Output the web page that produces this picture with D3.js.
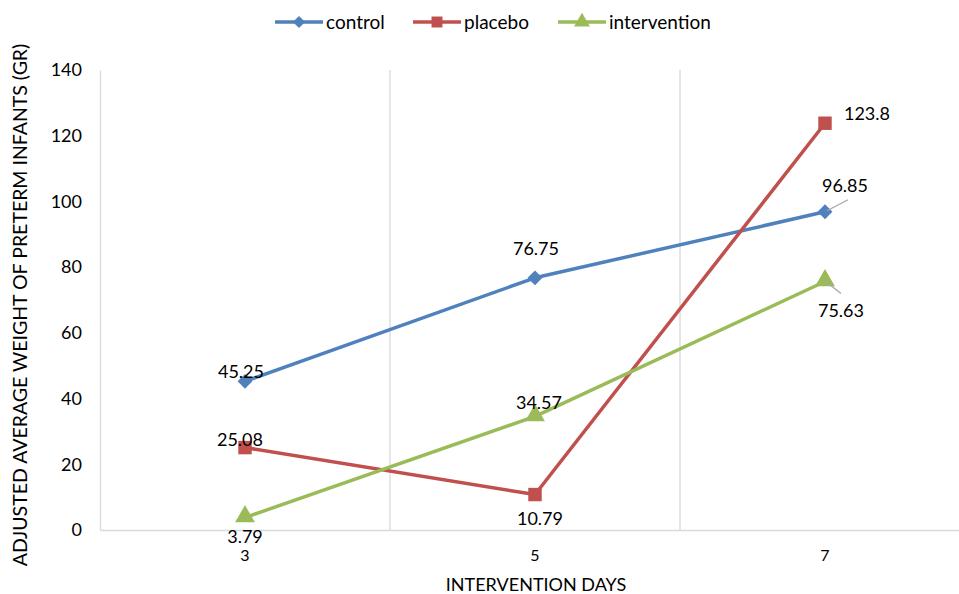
<!DOCTYPE html>
<html><head><meta charset="utf-8">
<script src="https://cdn.jsdelivr.net/npm/d3@7/dist/d3.min.js"></script>
<style>body{margin:0;background:#fff}svg{display:block;font-family:Lato,"Open Sans",sans-serif}</style>
</head><body><svg id="c" width="959" height="594"></svg>
<script>
const categories = ["3","5","7"];
const controlValues = [45.25, 76.75, 96.85];
const placeboValues = [25.08, 10.79, 123.8];
const interventionValues = [3.79, 34.57, 75.63];
const yTicks = [0,20,40,60,80,100,120,140];
const seriesNames = ["control","placebo","intervention"];
const seriesColors = ["#4F81BD","#C0504D","#9BBB59"];
// label placement: [dx, dy] offsets relative to point, per series/point
const labelPos = [
  [[-4,-10],[1,-29],[20,-26]],
  [[-5,-8],[5,24],[42,-10]],
  [[0,19],[4,-14],[16,29]]
];
const leaders = [[null,null,[2,-1,23,-12]],[null,null,null],[null,null,[2,1,16,12]]];

const svg = d3.select("#c");
const x = d3.scaleBand().domain(categories).range([100,970]).paddingInner(0).paddingOuter(0);
const y = d3.scaleLinear().domain([0,140]).range([530,70]);
const cx = c => x(c) + x.bandwidth()/2;

// gridlines (category boundaries)
svg.append("g").selectAll("line").data(categories.slice(1)).join("line")
  .attr("x1", d=>x(d)).attr("x2", d=>x(d)).attr("y1", y(140)).attr("y2", y(0))
  .attr("stroke","#d9d9d9").attr("stroke-width",1.3);

// y axis
const ya = svg.append("g").attr("transform","translate(100,0)")
  .call(d3.axisLeft(y).tickValues(yTicks).tickSize(0).tickPadding(18));
ya.select(".domain").attr("stroke","#d9d9d9").attr("stroke-width",1.3);
ya.selectAll("text").attr("font-size",18).attr("fill","#000").attr("font-family","Lato");

// x axis
const xa = svg.append("g").attr("transform","translate(0,530)")
  .call(d3.axisBottom(x).tickSize(0).tickPadding(20));
xa.select(".domain").attr("stroke","#d9d9d9").attr("stroke-width",1.3);
xa.selectAll("text").attr("font-size",16).attr("fill","#000").attr("font-family","Lato");

// titles
svg.append("text").attr("x",536).attr("y",591).attr("text-anchor","middle")
  .attr("font-size",18).text("INTERVENTION DAYS");
svg.append("text").attr("transform","translate(27,305) rotate(-90)").attr("text-anchor","middle")
  .attr("font-size",19.5).text("ADJUSTED AVERAGE WEIGHT OF PRETERM INFANTS (GR)");

const data = [controlValues, placeboValues, interventionValues];
const line = d3.line().x((d,i)=>cx(categories[i])).y(d=>y(d));
const symbols = [d3.symbolSquare, d3.symbolSquare, d3.symbolTriangle];
const symSize = [110, 180, 170];

data.forEach((vals,s)=>{
  svg.append("path").datum(vals).attr("d",line).attr("fill","none")
    .attr("stroke",seriesColors[s]).attr("stroke-width",3.5).attr("stroke-linejoin","round");
  svg.append("g").selectAll("path").data(vals).join("path")
    .attr("transform",(d,i)=>{
      const py = y(d) + (s===2 ? -1 : 0);
      return s===0 ? `translate(${cx(categories[i])},${py}) rotate(45)` : `translate(${cx(categories[i])},${py})`;
    })
    .attr("d", d3.symbol().type(symbols[s]).size(symSize[s]))
    .attr("fill",seriesColors[s]);
});

// leader lines
data.forEach((vals,s)=>{
  vals.forEach((v,i)=>{
    const L = leaders[s][i];
    if(!L) return;
    const px = cx(categories[i]), py = y(v);
    svg.append("line").attr("x1",px+L[0]).attr("y1",py+L[1]).attr("x2",px+L[2]).attr("y2",py+L[3])
      .attr("stroke","#a6a6a6").attr("stroke-width",1.3);
  });
});

// data labels
data.forEach((vals,s)=>{
  svg.append("g").selectAll("text").data(vals).join("text")
    .attr("x",(d,i)=>cx(categories[i])+labelPos[s][i][0])
    .attr("y",(d,i)=>y(d)+labelPos[s][i][1])
    .attr("dy","0.35em").attr("text-anchor","middle").attr("font-size",18).attr("fill","#000")
    .text(d=>d);
});

// legend
const legX = [275, 413, 558];
seriesNames.forEach((n,s)=>{
  const g = svg.append("g").attr("transform",`translate(${legX[s]},22)`);
  g.append("line").attr("x1",0).attr("x2",48).attr("stroke",seriesColors[s]).attr("stroke-width",3.5);
  g.append("path").attr("transform", s===0 ? "translate(24,0) rotate(45)" : "translate(24,0)")
    .attr("d", d3.symbol().type(symbols[s]).size(s===0?75:(s===1?120:110))).attr("fill",seriesColors[s]);
  g.append("text").attr("x",51).attr("y",0).attr("dy","0.35em").attr("font-size",19).text(n);
});
</script></body></html>
